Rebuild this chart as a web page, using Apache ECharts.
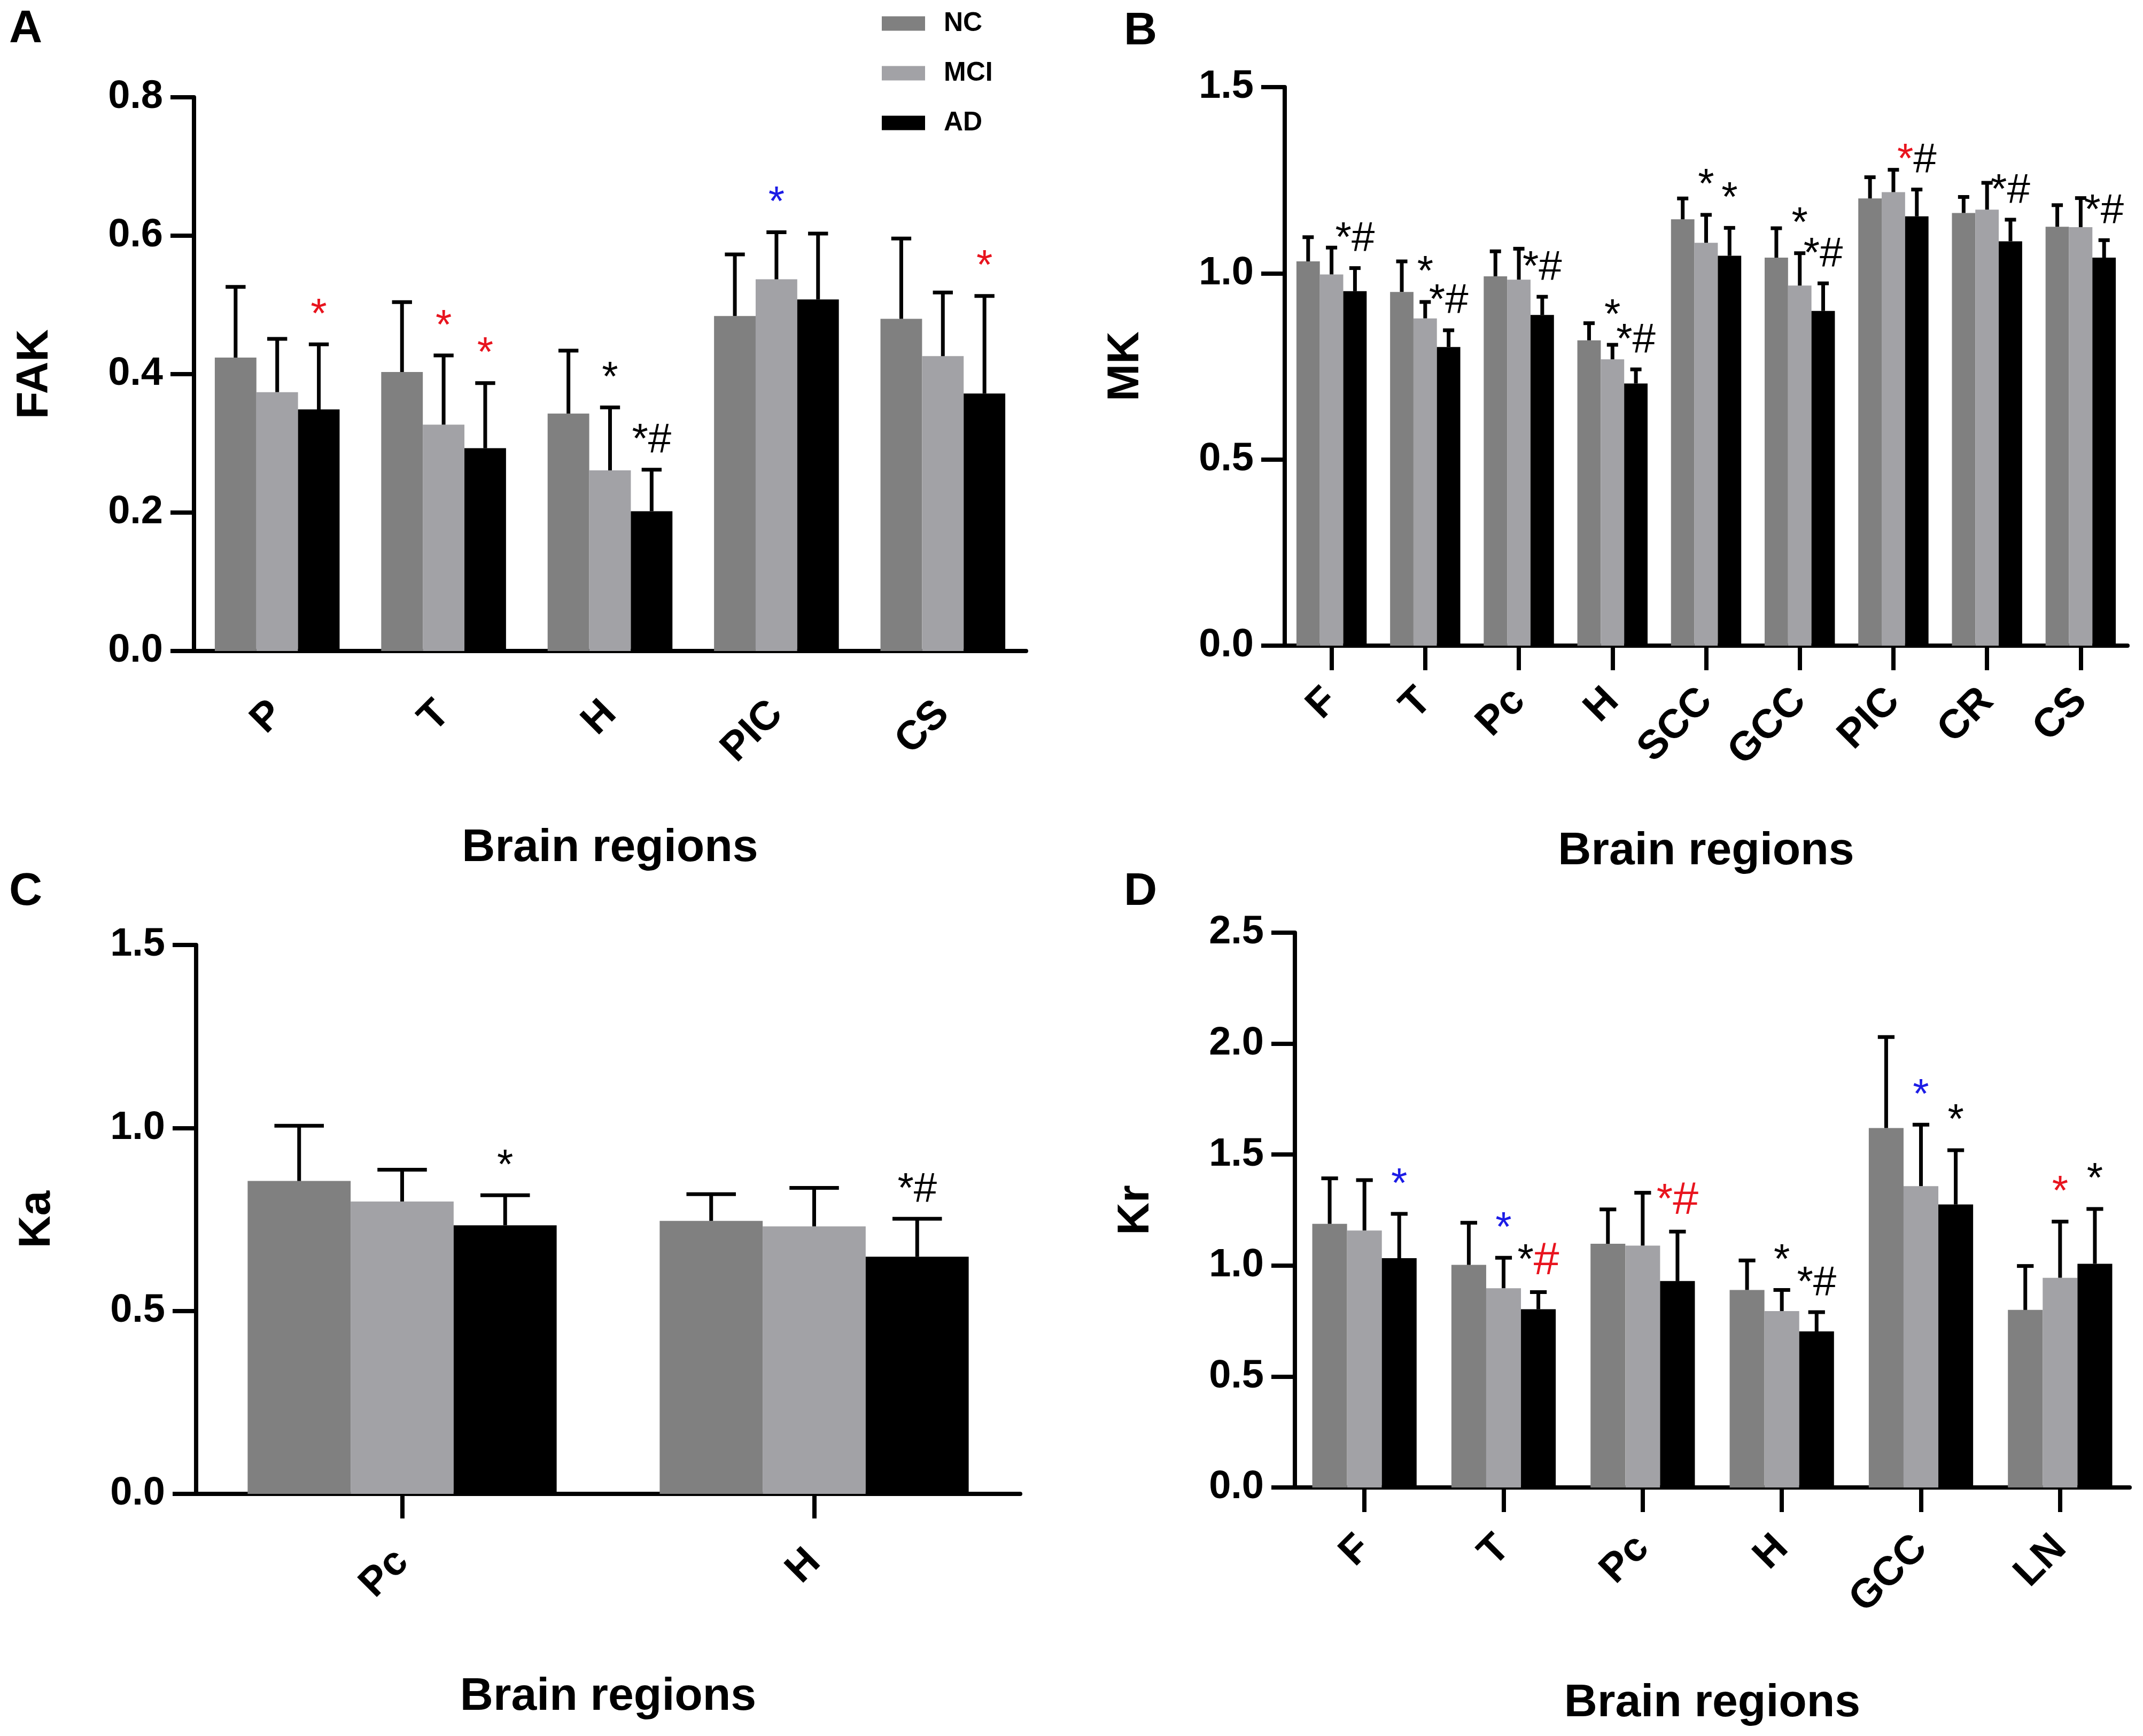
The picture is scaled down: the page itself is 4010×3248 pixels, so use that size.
<!DOCTYPE html>
<html>
<head>
<meta charset="utf-8">
<script src="https://cdn.jsdelivr.net/npm/echarts@6/dist/echarts.min.js"></script>
<style>
  html, body { margin: 0; padding: 0; background: #fff; }
  #chart { width: 4010px; height: 3248px; }
</style>
</head>
<body>
<div id="chart"></div>
<script>
// ---- data (mean and SD per group) ----
const groups = ["NC", "MCI", "AD"];

// A: FAK
const regionsA = ["P", "T", "H", "PIC", "CS"];
const fakNC = [0.424, 0.403, 0.343, 0.484, 0.480];
const fakMCI = [0.374, 0.327, 0.261, 0.537, 0.426];
const fakAD = [0.349, 0.293, 0.202, 0.508, 0.372];
const fakNCsd = [0.102, 0.101, 0.091, 0.089, 0.116];
const fakMCIsd = [0.077, 0.100, 0.091, 0.068, 0.092];
const fakADsd = [0.094, 0.094, 0.060, 0.095, 0.141];
const fakMCInote = ["", "{r|*}", "{k|*}", "{b|*}", ""];
const fakADnote = ["{r|*}", "{r|*}", "{k|*#}", "", "{r|*}"];

// B: MK
const regionsB = ["F", "T", "Pc", "H", "SCC", "GCC", "PIC", "CR", "CS"];
const mkNC = [1.032, 0.950, 0.992, 0.820, 1.145, 1.042, 1.201, 1.162, 1.125];
const mkMCI = [0.997, 0.879, 0.983, 0.769, 1.082, 0.967, 1.218, 1.171, 1.124];
const mkAD = [0.952, 0.802, 0.888, 0.704, 1.047, 0.899, 1.153, 1.086, 1.042];
const mkNCsd = [0.065, 0.082, 0.067, 0.046, 0.056, 0.079, 0.057, 0.043, 0.058];
const mkMCIsd = [0.072, 0.044, 0.083, 0.039, 0.075, 0.087, 0.060, 0.072, 0.078];
const mkADsd = [0.062, 0.045, 0.049, 0.038, 0.075, 0.074, 0.072, 0.058, 0.047];
const mkMCInote = ["", "{k|*}", "", "{k|*}", "{k|*}", "{k|*}", "", "", ""];
const mkADnote = ["{k|*#}", "{k|*#}", "{k|*#}", "{k|*#}", "{k|*}", "{k|*#}", "{r|*}{k|#}", "{k|*#}", "{k|*#}"];

// C: Ka
const regionsC = ["Pc", "H"];
const kaNC = [0.855, 0.746];
const kaMCI = [0.799, 0.731];
const kaAD = [0.734, 0.648];
const kaNCsd = [0.151, 0.073];
const kaMCIsd = [0.087, 0.105];
const kaADsd = [0.082, 0.104];
const kaADnote = ["{k|*}", "{k|*#}"];

// D: Kr
const regionsD = ["F", "T", "Pc", "H", "GCC", "LN"];
const krNC = [1.188, 1.003, 1.098, 0.890, 1.620, 0.800];
const krMCI = [1.158, 0.898, 1.090, 0.795, 1.358, 0.945];
const krAD = [1.033, 0.803, 0.930, 0.703, 1.275, 1.008];
const krNCsd = [0.205, 0.190, 0.155, 0.133, 0.410, 0.198];
const krMCIsd = [0.227, 0.137, 0.238, 0.095, 0.277, 0.253];
const krADsd = [0.200, 0.077, 0.223, 0.087, 0.245, 0.247];
const krMCInote = ["", "{b|*}", "", "{k|*}", "{b|*}", "{r|*}"];
const krADnote = ["{b|*}", "{k|*}{R|#}", "{r|*}{R|#}", "{k|*#}", "{k|*}", "{k|*}"];

const yNames = ["FAK", "MK", "Ka", "Kr"];
const yMax = [0.8, 1.5, 1.5, 2.5];
const yStep = [0.2, 0.5, 0.5, 0.5];

// ---- layout / style ----
const FONT = '"Liberation Sans", Arial, sans-serif';
const colors = ["#808080", "#a2a2a6", "#000000"];
const NOTE_SIZE = 78;
const noteRich = {
  k: { fill: "#000000", fontSize: NOTE_SIZE, fontFamily: FONT },
  r: { fill: "#e8141e", fontSize: NOTE_SIZE, fontFamily: FONT },
  R: { fill: "#e8141e", fontSize: 86, fontFamily: FONT },
  b: { fill: "#1c1ce6", fontSize: NOTE_SIZE, fontFamily: FONT }
};

const panels = [
  { cats: regionsA, means: [fakNC, fakMCI, fakAD], sds: [fakNCsd, fakMCIsd, fakADsd],
    notes: [[], fakMCInote, fakADnote], grid: { left: 363, top: 182, width: 1557, height: 1036 },
    ticks: false, labelMargin: 106, nameGap: 326 },
  { cats: regionsB, means: [mkNC, mkMCI, mkAD], sds: [mkNCsd, mkMCIsd, mkADsd],
    notes: [[], mkMCInote, mkADnote], grid: { left: 2404, top: 163, width: 1577, height: 1045 },
    ticks: true, labelMargin: 92, nameGap: 342 },
  { cats: regionsC, means: [kaNC, kaMCI, kaAD], sds: [kaNCsd, kaMCIsd, kaADsd],
    notes: [[], [], kaADnote], grid: { left: 367, top: 1768, width: 1542, height: 1027 },
    ticks: true, labelMargin: 116, nameGap: 337 },
  { cats: regionsD, means: [krNC, krMCI, krAD], sds: [krNCsd, krMCIsd, krADsd],
    notes: [[], krMCInote, krADnote], grid: { left: 2423, top: 1745, width: 1562, height: 1038 },
    ticks: true, labelMargin: 102, nameGap: 361 }
];

function errRenderer(g, notes) {
  return function (params, api) {
    const i = api.value(0);
    const catW = api.size([1, 0])[0];
    const barW = (catW * 0.75) / 3;
    const p0 = api.coord([i, api.value(1)]);
    const p1 = api.coord([i, api.value(2)]);
    const x = p0[0] + (g - 1) * barW;
    const cap = barW * 0.48;
    const children = [
      { type: "line", shape: { x1: x, y1: p0[1], x2: x, y2: p1[1] }, style: { stroke: "#000", lineWidth: 7 } },
      { type: "line", shape: { x1: x - cap / 2, y1: p1[1], x2: x + cap / 2, y2: p1[1] }, style: { stroke: "#000", lineWidth: 7 } }
    ];
    const note = notes[params.dataIndex];
    if (note) {
      children.push({
        type: "text", x: x, y: p1[1] - 14,
        style: { text: note, align: "center", verticalAlign: "bottom", fontSize: NOTE_SIZE, fontFamily: FONT, fill: "#000", rich: noteRich }
      });
    }
    return { type: "group", children: children };
  };
}

const grids = [], xAxes = [], yAxes = [], series = [];
panels.forEach((p, k) => {
  grids.push(p.grid);
  xAxes.push({
    type: "category", gridIndex: k, data: p.cats,
    name: "Brain regions", nameLocation: "middle", nameGap: p.nameGap,
    nameTextStyle: { fontFamily: FONT, fontWeight: "bold", fontSize: 86, color: "#000" },
    axisLine: { lineStyle: { color: "#000", width: 8 } },
    axisTick: { show: p.ticks, alignWithLabel: true, length: 46, lineStyle: { color: "#000", width: 8 } },
    axisLabel: { rotate: 45, margin: p.labelMargin, fontFamily: FONT, fontWeight: "bold", fontSize: 76, color: "#000", interval: 0 },
    splitLine: { show: false }
  });
  yAxes.push({
    type: "value", gridIndex: k, min: 0, max: yMax[k], interval: yStep[k],
    name: yNames[k], nameLocation: "middle", nameGap: 255,
    nameTextStyle: { fontFamily: FONT, fontWeight: "bold", fontSize: 84, color: "#000" },
    axisLine: { show: true, lineStyle: { color: "#000", width: 8 } },
    axisTick: { show: true, length: 44, lineStyle: { color: "#000", width: 8 } },
    axisLabel: { margin: 58, fontFamily: FONT, fontWeight: "bold", fontSize: 74, color: "#000",
      formatter: v => v.toFixed(1) },
    splitLine: { show: false }
  });
  groups.forEach((gName, g) => {
    series.push({
      name: gName, type: "bar", xAxisIndex: k, yAxisIndex: k,
      data: p.means[g], barGap: "0%", barCategoryGap: "25%",
      itemStyle: { color: colors[g] }, emphasis: { disabled: true }, z: 2
    });
  });
  groups.forEach((gName, g) => {
    series.push({
      name: "err" + k + g, type: "custom", xAxisIndex: k, yAxisIndex: k,
      data: p.means[g].map((m, i) => [i, m, +(m + p.sds[g][i]).toFixed(3)]),
      encode: { x: 0, y: [1, 2] },
      renderItem: errRenderer(g, p.notes[g]), z: 3, silent: true
    });
  });
});

const letter = (t, left, top) => ({
  type: "text", left: left, top: top,
  style: { text: t, fontFamily: FONT, fontWeight: "bold", fontSize: 86, fill: "#000" }
});

const chart = echarts.init(document.getElementById("chart"));
chart.setOption({
  backgroundColor: "#fff",
  animation: false,
  grid: grids,
  xAxis: xAxes,
  yAxis: yAxes,
  legend: {
    data: groups, orient: "vertical", left: 1645, top: 14,
    itemWidth: 81, itemHeight: 27, itemGap: 43, icon: "rect", selectedMode: false,
    textStyle: { fontFamily: FONT, fontWeight: "bold", fontSize: 50, color: "#000", padding: [0, 0, 0, 30] }
  },
  graphic: [letter("A", 17, 12), letter("B", 2103, 16), letter("C", 17, 1626), letter("D", 2103, 1626)],
  series: series
});
</script>
</body>
</html>
